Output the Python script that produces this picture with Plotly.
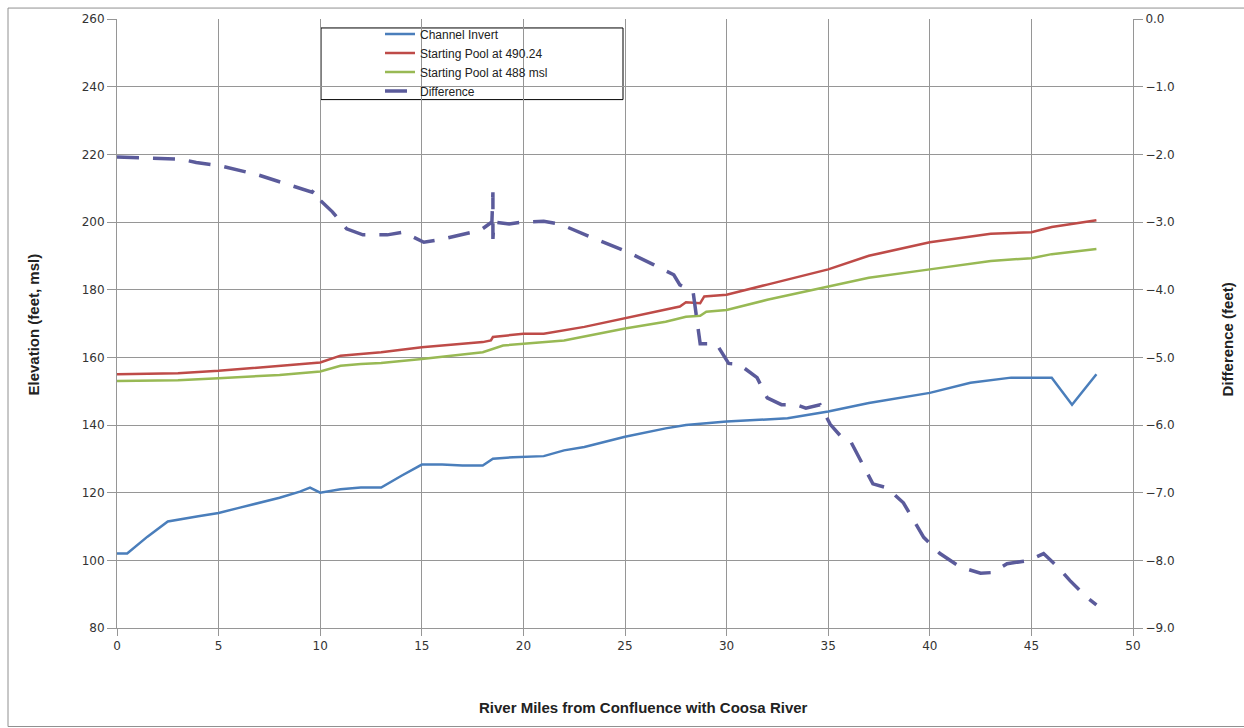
import plotly.graph_objects as go

# Channel invert
inv_mile = [0, 0.5, 1.5, 2.5, 4, 5, 6, 7, 8, 9, 9.5, 10, 11, 12, 13, 14, 15, 16, 17, 18, 18.5, 19.5, 21,
            22, 23, 25, 27, 28, 30, 33, 35, 37, 39, 40, 42, 44, 46, 47, 48.2]
inv_elev = [102, 102, 107, 111.5, 113, 114, 115.5, 117, 118.5, 120.3, 121.5, 120, 121, 121.5, 121.5, 125, 128.3,
            128.3, 128, 128, 130, 130.5, 130.8, 132.5, 133.5, 136.5, 139, 140, 141, 142, 144, 146.5, 148.5,
            149.5, 152.5, 154, 154, 146, 155]

# Starting pool at 490.24
red_mile = [0, 3, 5, 8, 10, 11, 12, 13, 15, 18, 18.4, 18.5, 20, 21, 23, 25, 27, 27.7, 28, 28.7, 28.9, 30, 32,
            35, 37, 40, 43, 45, 46, 48.2]
red_elev = [155, 155.3, 156, 157.5, 158.5, 160.5, 161, 161.5, 163, 164.5, 165, 166, 167, 167, 169, 171.5, 174,
            175, 176.3, 176, 178, 178.5, 181.5, 186, 190, 194, 196.5, 197, 198.5, 200.5]

# Starting pool at 488 msl
grn_mile = [0, 3, 5, 8, 10, 11, 12, 13, 15, 18, 19, 20, 22, 25, 27, 28, 28.7, 29, 30, 32, 35, 37, 40, 43, 45,
            46, 48.2]
grn_elev = [153, 153.2, 153.8, 154.8, 155.8, 157.5, 158, 158.3, 159.5, 161.5, 163.5, 164, 165, 168.5, 170.5,
            172, 172.3, 173.5, 174, 177, 181, 183.5, 186, 188.5, 189.3, 190.5, 192]

# Difference (feet)
dif_mile = [0, 3.1, 3.9, 5.1, 6.9, 9.0, 9.6, 9.7, 10.0, 10.6, 11.3, 12.1, 13.3, 14.1, 15.1, 15.9, 16.9, 17.9,
            18.45, 18.5, 18.5, 18.55, 19.3, 20, 21, 21.8, 23.3, 25.1, 26.4, 27.4, 27.7, 28.05, 28.35, 28.7,
            29.5, 30.1, 30.6, 31.5, 32.0, 32.7, 33.4, 33.9, 34.6, 35.1, 35.6, 36.1, 37.2, 37.9, 38.7, 39.7,
            40.5, 41.5, 42.5, 43.1, 43.8, 44.9, 45.6, 46.3, 46.9, 47.7, 48.2]
dif_val = [-2.04, -2.07, -2.12, -2.17, -2.3, -2.5, -2.56, -2.52, -2.68, -2.85, -3.1, -3.19, -3.19, -3.15, -3.3,
           -3.26, -3.19, -3.12, -3.0, -2.56, -3.25, -3.0, -3.03, -3.0, -2.99, -3.03, -3.22, -3.44, -3.63, -3.78,
           -3.93, -3.99, -4.03, -4.8, -4.8, -5.09, -5.1, -5.3, -5.6, -5.7, -5.7, -5.75, -5.7, -5.99, -6.16,
           -6.24, -6.87, -6.93, -7.15, -7.66, -7.9, -8.1, -8.19, -8.18, -8.05, -8.0, -7.9, -8.1, -8.3, -8.54,
           -8.66]

fig = go.Figure()
fig.add_trace(go.Scatter(x=inv_mile, y=inv_elev, mode="lines", name="Channel Invert",
                         line=dict(color="#4A7EBB", width=2.5)))
fig.add_trace(go.Scatter(x=red_mile, y=red_elev, mode="lines", name="Starting Pool at 490.24",
                         line=dict(color="#BE4B48", width=2.5)))
fig.add_trace(go.Scatter(x=grn_mile, y=grn_elev, mode="lines", name="Starting Pool at 488 msl",
                         line=dict(color="#98B954", width=2.5)))
fig.add_trace(go.Scatter(x=dif_mile, y=dif_val, mode="lines", name="Difference", yaxis="y2",
                         line=dict(color="#5B5B9B", width=3.5, dash="22px,14px")))

grid = "#969696"
title_font = dict(family="Liberation Sans Narrow, Arial", size=15, color="#222")


def px_x(p):
    return (p - 117) / 1016


def px_y(p):
    return (628 - p) / 612


fig.update_layout(
    width=1244, height=728,
    margin=dict(l=117, r=111, t=16, b=100),
    paper_bgcolor="white", plot_bgcolor="white",
    font=dict(family="Verdana, DejaVu Sans", size=12, color="#333"),
    xaxis=dict(range=[0, 50], dtick=5, showgrid=True, gridcolor=grid, gridwidth=1,
               showline=True, linecolor=grid, ticks="outside", ticklen=7, tickcolor=grid,
               zeroline=False),
    yaxis=dict(range=[80, 260], dtick=20, showgrid=True, gridcolor=grid, gridwidth=1,
               showline=True, linecolor=grid, ticks="outside", ticklen=9, tickcolor=grid,
               zeroline=False),
    yaxis2=dict(range=[-9, 0], dtick=1, tickformat=".1f", overlaying="y", side="right",
                showgrid=False, showline=True, linecolor=grid, ticks="outside", ticklen=9,
                tickcolor=grid, zeroline=False),
    legend=dict(x=px_x(380), y=px_y(16.5), xanchor="left", yanchor="top",
                bgcolor="rgba(0,0,0,0)", font=dict(family="Liberation Sans, Arial", size=12, color="#222"),
                tracegroupgap=0, itemwidth=30),
    showlegend=True,
    annotations=[
        dict(text="<b>River Miles from Confluence with Coosa River</b>", xref="paper", yref="paper",
             x=px_x(643), y=px_y(708), showarrow=False, font=title_font, xanchor="center", yanchor="middle"),
        dict(text="<b>Elevation (feet, msl)</b>", xref="paper", yref="paper", textangle=-90,
             x=px_x(33), y=px_y(323), showarrow=False, font=title_font, xanchor="center", yanchor="middle"),
        dict(text="<b>Difference (feet)</b>", xref="paper", yref="paper", textangle=-90,
             x=px_x(1227), y=px_y(338), showarrow=False, font=title_font, xanchor="center", yanchor="middle"),
    ],
    shapes=[
        dict(type="rect", xref="paper", yref="paper",
             x0=px_x(321), x1=px_x(623), y0=px_y(97), y1=px_y(25),
             line=dict(color="black", width=1), fillcolor="white", layer="below"),
        dict(type="rect", xref="paper", yref="paper",
             x0=px_x(8), x1=px_x(1250), y0=px_y(727), y1=px_y(5),
             line=dict(color="#909090", width=1), fillcolor="rgba(0,0,0,0)", layer="below"),
    ],
)

fig.write_html("out.html")
